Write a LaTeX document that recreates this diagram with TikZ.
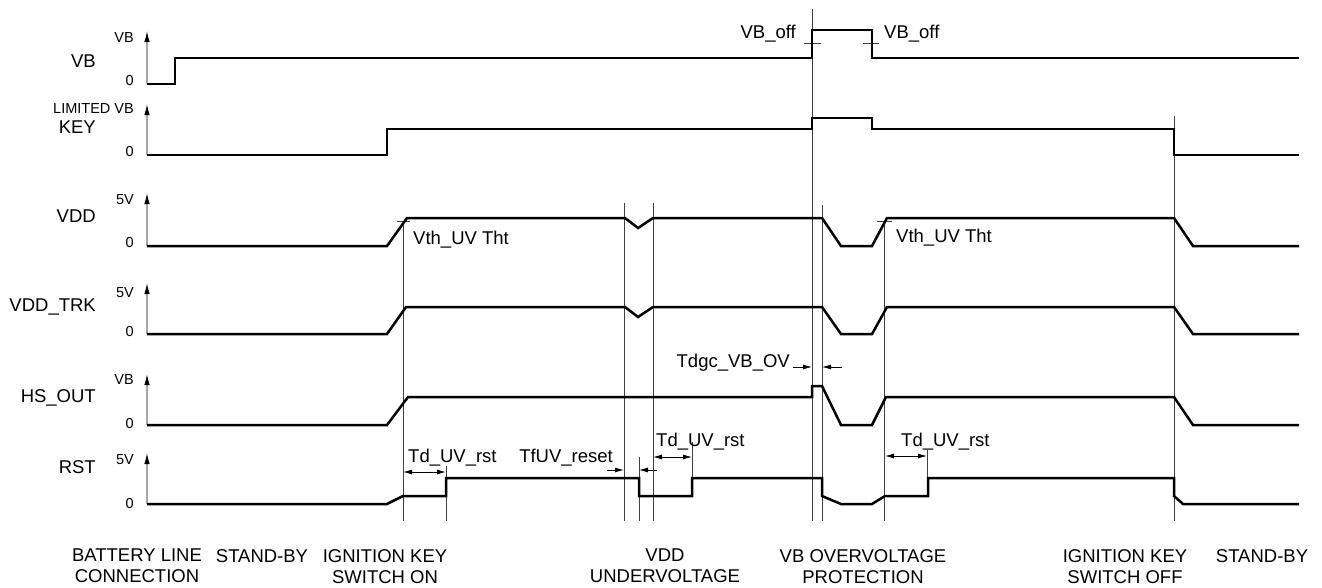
\documentclass[tikz,border=0pt]{standalone}
\usepackage{fontspec}
\setmainfont{Liberation Sans}
\usepackage{tikz}
\usetikzlibrary{arrows.meta,positioning,calc}

\begin{document}
\begin{tikzpicture}[x=1pt, y=-1pt,
    >={Latex[length=9pt,width=5pt]},
    wave/.style={line width=2.5pt, line join=miter},
    guide/.style={line width=0.8pt, black!75},
    axis/.style={line width=1.1pt, gray!70, -{Latex[length=11pt,width=5.5pt,color=black]}},
    ival/.style={line width=0.9pt},
    signame/.style={anchor=base east, inner sep=0pt, font=\fontsize{18.5}{21}\selectfont},
    lvl/.style={anchor=base east, inner sep=0pt, font=\fontsize{14.5}{16}\selectfont},
    note/.style={anchor=base west, inner sep=0pt, font=\fontsize{18.5}{21}\selectfont},
    phase/.style={anchor=north, inner sep=0pt, align=center, font=\fontsize{18.5}{21}\selectfont}]
    \useasboundingbox (0,0) rectangle (1322,587);

    % axes
    \foreach \yb/\yt in {84/31, 155/104, 246/193, 334/283, 425/374, 504/453}
        \draw[axis] (147,\yb) -- (147,\yt);

    % signal names and levels
    \node[signame] (nVB)  at (96,67)  {VB};
    \node[signame] (nKEY) at (96,133) {KEY};
    \node[signame] (nVDD) at (96,222) {VDD};
    \node[signame] (nTRK) at (96,311) {VDD\_TRK};
    \node[signame] (nHS)  at (96,402) {HS\_OUT};
    \node[signame] (nRST) at (96,473) {RST};

    \node[lvl] (vbTop)  at (134,42)  {VB};
    \node[lvl] (vbLow)  at (134,85)  {0};
    \node[lvl] (keyTop) at (134,113) {LIMITED VB};
    \node[lvl] (keyLow) at (134,156) {0};
    \node[lvl] (vddTop) at (134,204) {5V};
    \node[lvl] (vddLow) at (134,247) {0};
    \node[lvl] (trkTop) at (134,297) {5V};
    \node[lvl] (trkLow) at (134,336) {0};
    \node[lvl] (hsTop)  at (134,384) {VB};
    \node[lvl] (hsLow)  at (134,428) {0};
    \node[lvl] (rstTop) at (134,464) {5V};
    \node[lvl] (rstLow) at (134,508) {0};

    % guide lines
    \foreach \gx/\gt/\gb in {403/221/521, 446/466/521, 624/203/521, 639/457/521,
                             653/203/521, 692/442/478, 812/9/521, 822/205/521,
                             884/221/521, 927/450/478, 1174/116/521}
        \draw[guide] (\gx,\gt) -- (\gx,\gb);
    \draw[guide] (397,221) -- (410,221);
    \draw[guide] (877,221) -- (892,221);
    \draw[guide] (804,43) -- (821,43);
    \draw[guide] (863,43) -- (879,43);

    % waveforms
    \draw[wave] (147,84) -- (175,84) -- (175,58) -- (812,58) -- (812,30)
        -- (872,30) -- (872,58) -- (1299,58);
    \draw[wave] (147,155) -- (387,155) -- (387,129) -- (812,129) -- (812,118)
        -- (872,118) -- (872,129) -- (1174,129) -- (1174,155) -- (1299,155);
    \draw[wave] (147,246) -- (387,246) -- (407,218) -- (625,218) -- (638,228)
        -- (653,218) -- (822,218) -- (841,246) -- (872,246) -- (887,218)
        -- (1174,218) -- (1193,246) -- (1299,246);
    \draw[wave] (147,334) -- (387,334) -- (406,307) -- (625,307) -- (638,317)
        -- (653,307) -- (822,307) -- (841,334) -- (872,334) -- (887,307)
        -- (1174,307) -- (1193,334) -- (1299,334);
    \draw[wave] (147,425) -- (387,425) -- (408,397) -- (812,397) -- (812,386)
        -- (822,386) -- (841,425) -- (872,425) -- (886,397) -- (1174,397)
        -- (1193,425) -- (1299,425);
    \draw[wave] (147,504) -- (387,504) -- (403,496) -- (446,496) -- (446,478)
        -- (639,478) -- (639,496) -- (692,496) -- (692,478) -- (822,478)
        -- (822,496) -- (841,504) -- (872,504) -- (885,496) -- (928,496)
        -- (928,478) -- (1174,478) -- (1174,496) -- (1183,504) -- (1299,504);

    % thresholds
    \node[note, anchor=base east] (offL) at (796,38) {VB\_off};
    \node[note] (offR) at (884,38) {VB\_off};
    \node[note] (thOn) at (413,244) {Vth\_UV Tht};
    \node[note] (thRe) at (896,242) {Vth\_UV Tht};

    % timings
    \coordinate (rstA) at (403,472);
    \coordinate (rstB) at (446,472);
    \draw[ival, <->] (rstA) -- (rstB);
    \node[note] (tdOn) at (408,462) {Td\_UV\_rst};

    \coordinate (ufA) at (624,470);
    \coordinate (ufB) at (639,470);
    \draw[ival, ->] ($(ufA)+(-17,0)$) -- (ufA);
    \draw[ival, ->] ($(ufB)+(18,0)$) -- (ufB);
    \node[note, anchor=base east] (tfUV) at (613,462) {TfUV\_reset};

    \coordinate (uvA) at (653,457);
    \coordinate (uvB) at (692,457);
    \draw[ival, <->] (uvA) -- (uvB);
    \node[note] (tdUV) at (656,446) {Td\_UV\_rst};

    \coordinate (ovA) at (812,367);
    \coordinate (ovB) at (822,367);
    \draw[ival, ->] ($(ovA)+(-19,0)$) -- (ovA);
    \draw[ival, ->] ($(ovB)+(20,0)$) -- (ovB);
    \node[note, anchor=base east] (tdgc) at (790,367) {Tdgc\_VB\_OV};

    \coordinate (reA) at (885,456);
    \coordinate (reB) at (927,456);
    \draw[ival, <->] (reA) -- (reB);
    \node[note] (tdRe) at (901,446) {Td\_UV\_rst};

    % phases
    \node[phase] (phBat) at (137,549) {BATTERY LINE\\CONNECTION};
    \node[phase] (phSb1) at (262,549) {STAND-BY};
    \node[phase] (phOn)  at (385,549) {IGNITION KEY\\SWITCH ON};
    \node[phase] (phUV)  at (665,549) {VDD\\UNDERVOLTAGE};
    \node[phase] (phOV)  at (863,549) {VB OVERVOLTAGE\\PROTECTION};
    \node[phase] (phOff) at (1125,549) {IGNITION KEY\\SWITCH OFF};
    \node[phase] (phSb2) at (1262,549) {STAND-BY};
\end{tikzpicture}
\end{document}
